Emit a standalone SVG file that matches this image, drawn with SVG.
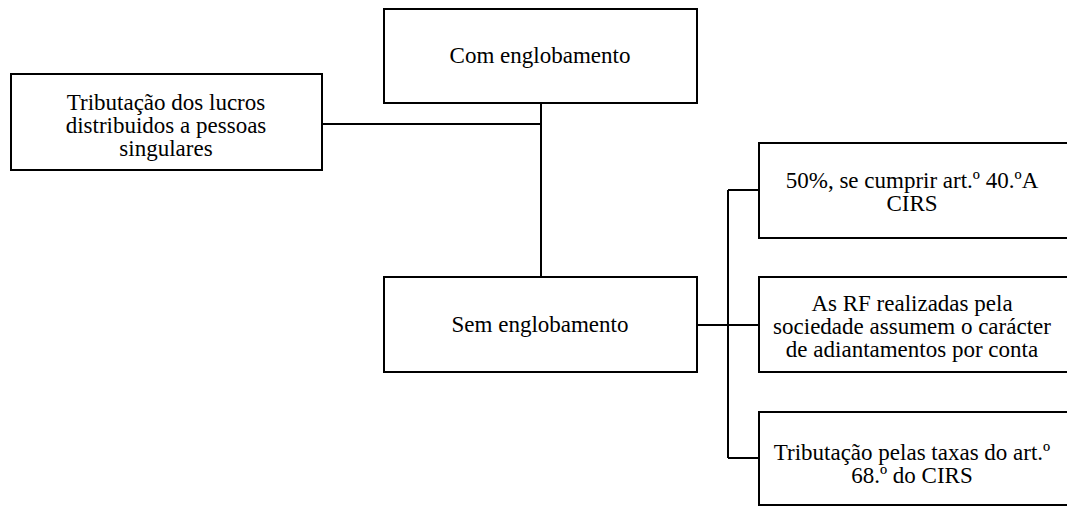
<svg xmlns="http://www.w3.org/2000/svg" width="1067" height="506" viewBox="0 0 1067 506">
<style>
.box{fill:#fff;stroke:#000;stroke-width:2}
.t{font-size:23px;fill:#000;text-anchor:middle}
.c{fill:none;stroke:#000;stroke-width:2}
</style>
<rect width="1067" height="506" fill="#fff"/>
<g id="connectors">
<path class="c" d="M322 124H541M541 103V277M697 325H759M728 190V458M728 190H759M728 458H759"/>
</g>
<g font-family="Liberation Serif, DejaVu Serif, serif">
<g id="root">
<rect class="box" x="11" y="74" width="311" height="96"/>
<text class="t" x="166" y="110">Tributação dos lucros</text>
<text class="t" x="166" y="133">distribuidos a pessoas</text>
<text class="t" x="166" y="156">singulares</text>
</g>
<g id="com">
<rect class="box" x="384" y="9" width="313" height="94"/>
<text class="t" x="540" y="63">Com englobamento</text>
</g>
<g id="sem">
<rect class="box" x="384" y="277" width="313" height="95"/>
<text class="t" x="540" y="332">Sem englobamento</text>
</g>
<g id="r1">
<rect class="box" x="759" y="143" width="312" height="95"/>
<text class="t" x="912" y="188">50%, se cumprir art.º 40.ºA</text>
<text class="t" x="912" y="211">CIRS</text>
</g>
<g id="r2">
<rect class="box" x="759" y="277" width="312" height="95"/>
<text class="t" x="912" y="311">As RF realizadas pela</text>
<text class="t" x="912" y="334">sociedade assumem o carácter</text>
<text class="t" x="912" y="357">de adiantamentos por conta</text>
</g>
<g id="r3">
<rect class="box" x="759" y="412" width="312" height="93"/>
<text class="t" x="912" y="460">Tributação pelas taxas do art.º</text>
<text class="t" x="912" y="483">68.º do CIRS</text>
</g>
</g>
</svg>
